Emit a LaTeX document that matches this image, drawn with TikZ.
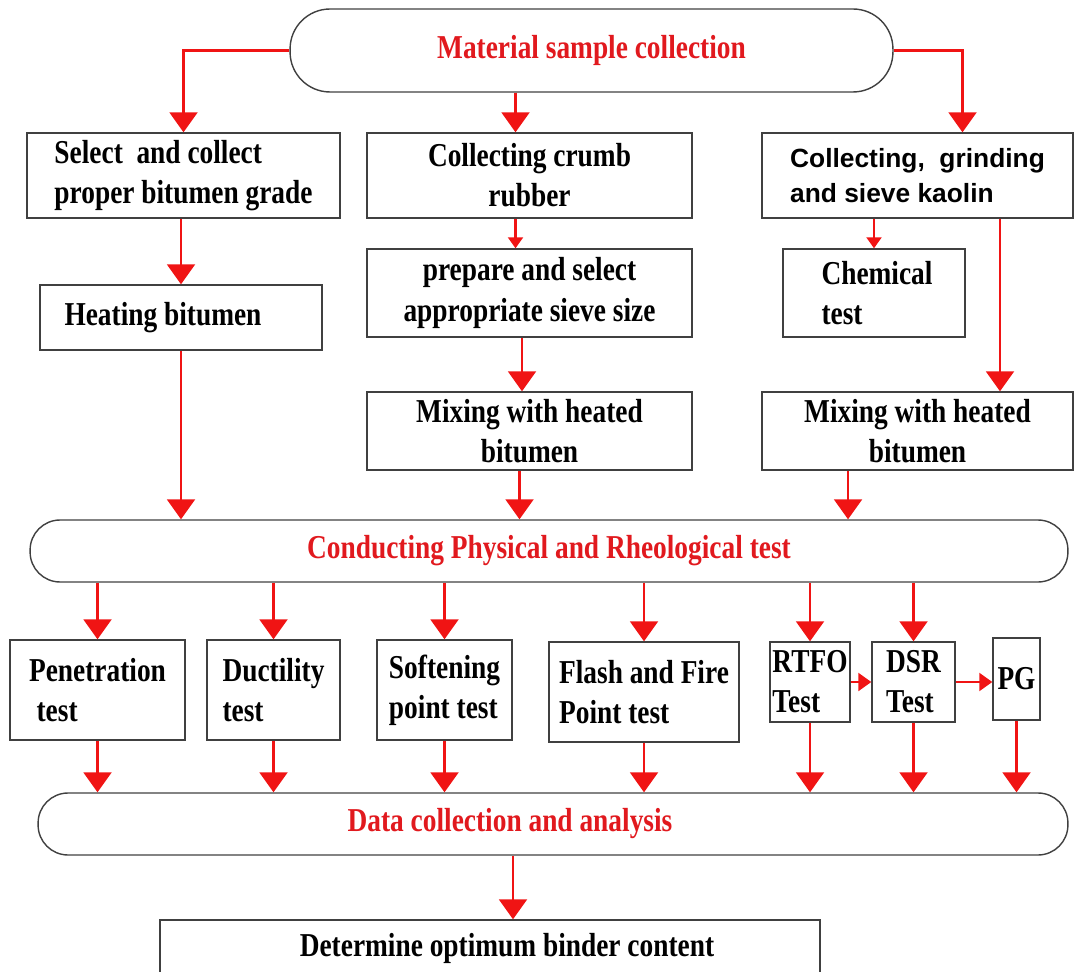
\documentclass[tikz,border=0pt]{standalone}
\usepackage{fontspec}
\setmainfont{Liberation Serif}[FakeStretch=0.82]
\newfontfamily\kaolinfont{Liberation Sans}
\usetikzlibrary{arrows.meta}
\definecolor{linered}{RGB}{240,20,20}
\definecolor{textred}{RGB}{225,25,30}

\begin{document}
\begin{tikzpicture}[x=0.02cm, y=-0.02cm,
  box/.style={draw=black!75, line width=0.8pt, inner sep=2pt, font=\fontsize{19}{22.8}\selectfont\bfseries},
  pill/.style={box, rounded corners=0.6cm, text=textred},
  arr/.style={draw=linered, line width=1.2pt, -{Triangle[width=0.56cm,length=0.4cm]}},
  sarr/.style={arr, -{Triangle[width=0.3cm,length=0.22cm]}},
  harr/.style={arr, -{Triangle[width=0.36cm,length=0.26cm]}}]
\useasboundingbox (0,0) rectangle (1077,972);

% top of the flow
\node[pill, rounded corners=0.8cm, minimum width=12.06cm, minimum height=1.66cm] (top) at (591.5,50.5) {Material sample collection};
\node[box, align=left, minimum width=6.26cm, minimum height=1.7cm] (b1) at (183.5,175.5) {Select~ and collect\\proper bitumen grade};
\node[box, align=center, minimum width=6.5cm, minimum height=1.7cm] (b2) at (529.5,175.5) {Collecting crumb\\rubber};
\node[box, align=left, minimum width=6.22cm, minimum height=1.7cm, font=\kaolinfont\fontsize{15}{20}\selectfont\bfseries] (b3) at (917.5,175.5) {Collecting,~ grinding\\and sieve kaolin};

\node[box, minimum width=5.64cm, minimum height=1.3cm] (heat) at (181,317.5) {Heating bitumen\hspace*{0.72cm}};
\node[box, align=center, minimum width=6.5cm, minimum height=1.76cm] (prep) at (529.5,293) {prepare and select\\appropriate sieve size};
\node[box, align=center, minimum width=6.5cm, minimum height=1.56cm] (mixa) at (529.5,431) {Mixing with heated\\bitumen};
\node[box, align=left, text width=2.1cm, minimum width=3.64cm, minimum height=1.76cm] (chem) at (874,293) {Chemical\\test};
\node[box, align=center, minimum width=6.22cm, minimum height=1.56cm] (mixb) at (917.5,431) {Mixing with heated\\bitumen};

\node[pill, minimum width=20.76cm, minimum height=1.24cm] (phys) at (549,551) {Conducting Physical and Rheological test};

% tests
\node[box, align=left, minimum width=3.5cm, minimum height=2cm] (pen) at (97.5,690) {Penetration\\\hspace*{0.15cm}test};
\node[box, align=left, minimum width=2.66cm, minimum height=2cm] (duc) at (273.5,690) {Ductility\\test};
\node[box, align=left, minimum width=2.7cm, minimum height=2cm] (sof) at (444.5,690) {Softening\\point test};
\node[box, align=left, minimum width=3.8cm, minimum height=2cm] (fla) at (644,692) {Flash and Fire\\Point test};
\node[box, align=left, inner xsep=1pt, minimum width=1.6cm, minimum height=1.6cm] (rtf) at (810,682) {RTFO\\Test};
\node[box, align=left, inner xsep=1pt, minimum width=1.66cm, minimum height=1.6cm] (dsr) at (913.5,682) {DSR\\Test};
\node[box, inner xsep=1pt, minimum width=0.94cm, minimum height=1.64cm] (pg) at (1016.5,679) {PG};

\node[pill, minimum width=20.6cm, minimum height=1.24cm] (data) at (553,824) {Data collection and analysis\hspace*{1.72cm}};
\node[box, minimum width=13.2cm, minimum height=1.12cm] (det) at (490,948) {\hspace*{0.68cm}Determine optimum binder content};

% connectors
\draw[arr] (top.west) -| (b1.north);
\draw[arr] ([xshift=-0.28cm]b2.north |- top.south) -- ([xshift=-0.28cm]b2.north);
\draw[arr] (top.east) -| ([xshift=0.9cm]b3.north);
\draw[arr] (b1.south -| heat.north) -- (heat.north);
\draw[arr] (heat.south) -- (heat.south |- phys.north);
\draw[sarr] ([xshift=-0.28cm]b2.south) -- ([xshift=-0.28cm]prep.north);
\draw[arr] ([xshift=-0.15cm]prep.south) -- ([xshift=-0.15cm]mixa.north);
\draw[arr] ([xshift=-0.2cm]mixa.south) -- ([xshift=-0.2cm]mixa.south |- phys.north);
\draw[sarr] (b3.south -| chem.north) -- (chem.north);
\draw[arr] ([xshift=1.65cm]mixb.north |- b3.south) -- ([xshift=1.65cm]mixb.north);
\draw[arr] ([xshift=-1.39cm]mixb.south) -- ([xshift=-1.39cm]mixb.south |- phys.north);

\foreach \t in {pen,duc,sof,fla,rtf,dsr}
  \draw[arr] (phys.south -| \t.north) -- (\t.north);
\draw[harr] (rtf.east) -- (dsr.west);
\draw[harr] (dsr.east) -- (dsr.east -| pg.west);
\foreach \t in {pen,duc,sof,fla,rtf,dsr,pg}
  \draw[arr] (\t.south) -- (\t.south |- data.north);
\draw[arr] ([xshift=0.46cm]det.north |- data.south) -- ([xshift=0.46cm]det.north);
\end{tikzpicture}
\end{document}
